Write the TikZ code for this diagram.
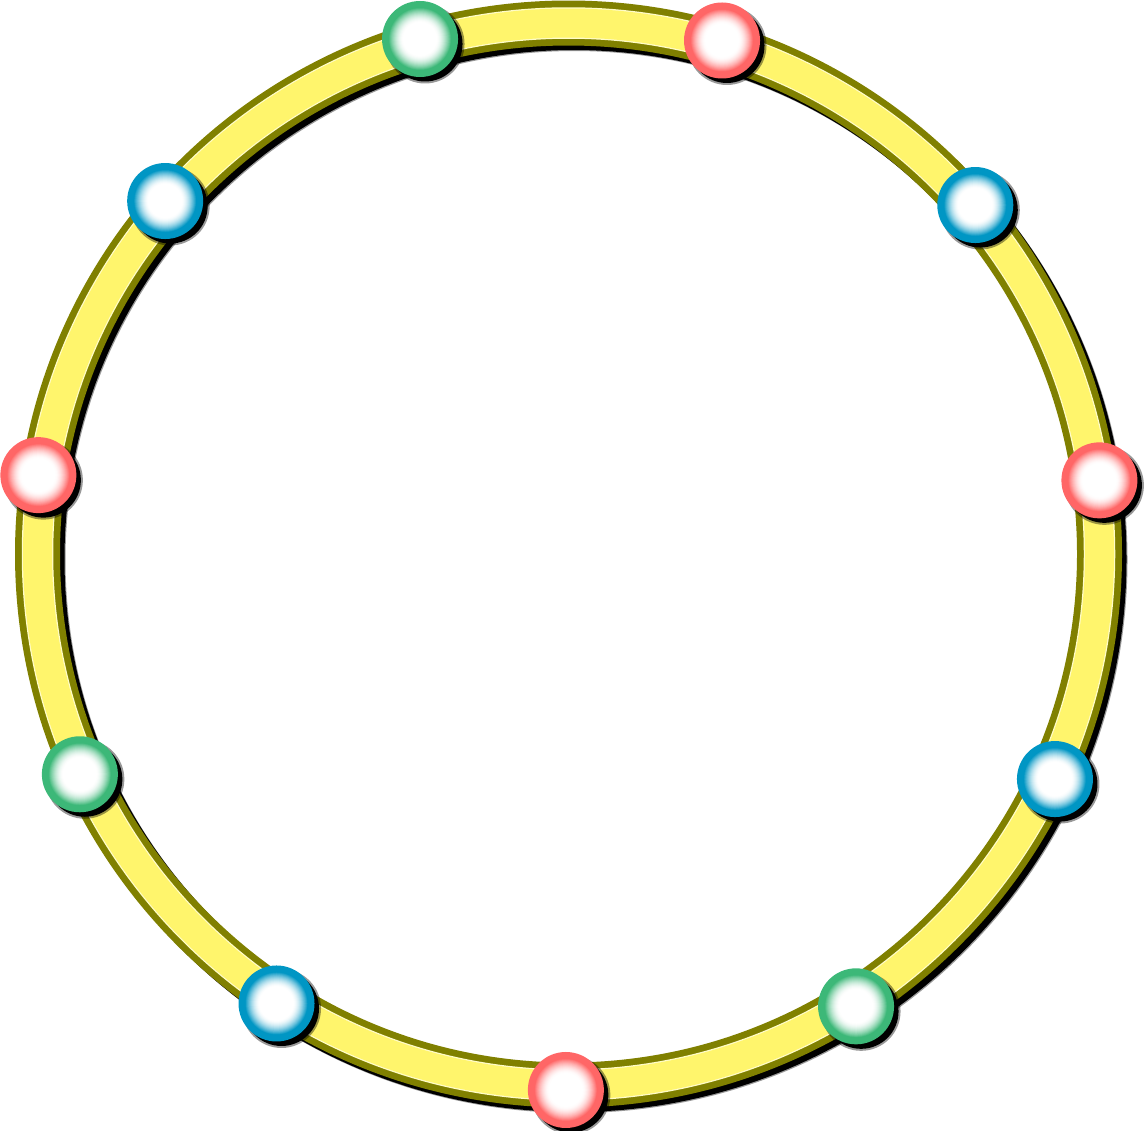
\documentclass[tikz,border=0pt]{standalone}
\usetikzlibrary{calc}
\definecolor{ringolive}{RGB}{128,128,0}
\definecolor{ringyellow}{RGB}{255,245,108}
\definecolor{ringlight}{RGB}{255,252,200}
\definecolor{nred}{RGB}{255,102,102}
\definecolor{ngreen}{RGB}{60,184,120}
\definecolor{nblue}{RGB}{0,150,196}
\begin{document}
\begin{tikzpicture}[x=1pt,y=-1pt,
  ballnode/.style={circle, inner sep=0pt, minimum size=69pt, line width=7pt, draw=#1, fill=#1},
  ringshadow/.style={black, line width=44pt},
  ringbase/.style={ringolive, line width=45pt},
  ringhi/.style={ringlight, line width=31.5pt},
  ringfill/.style={ringyellow, line width=29pt},
  ballshadow/.style={fill=black}]
\useasboundingbox (0,0) rectangle (1145,1130);
\coordinate (c) at (568.5,554);
\draw[ringshadow, opacity=0.4] ([shift={(6,6)}]c) circle[radius=531pt];
\draw[ringshadow] ([shift={(5,5)}]c) circle[radius=531pt];
\draw[ringbase] (c) circle[radius=531pt];
\draw[ringhi] (c) circle[radius=531pt];
\draw[ringfill] (c) circle[radius=531pt];
\foreach \k/\col in {0/nred,1/nblue,2/nred,3/ngreen,4/nblue,5/nred,6/ngreen,7/nblue,8/nred,9/ngreen,10/nblue} {
  \pgfmathsetmacro\ang{7.9+32.7273*\k}
  \coordinate (p\k) at ($(c)+(\ang:536pt)$);
  \fill[ballshadow, opacity=0.4] ([shift={(5,5)}]p\k) circle[radius=39.5pt];
  \fill[ballshadow] ([shift={(5,5)}]p\k) circle[radius=37.5pt];
  \node[ballnode=\col] (n\k) at (p\k) {};
  \foreach \i in {0,...,28} {
    \pgfmathsetmacro\rr{31.5-0.5*\i}
    \pgfmathsetmacro\pp{100*((\rr-17)/14.5)^1.7}
    \fill[\col!\pp!white] (n\k) circle[radius=\rr pt];
  }
  \fill[white] (n\k) circle[radius=17pt];
}
\end{tikzpicture}
\end{document}
